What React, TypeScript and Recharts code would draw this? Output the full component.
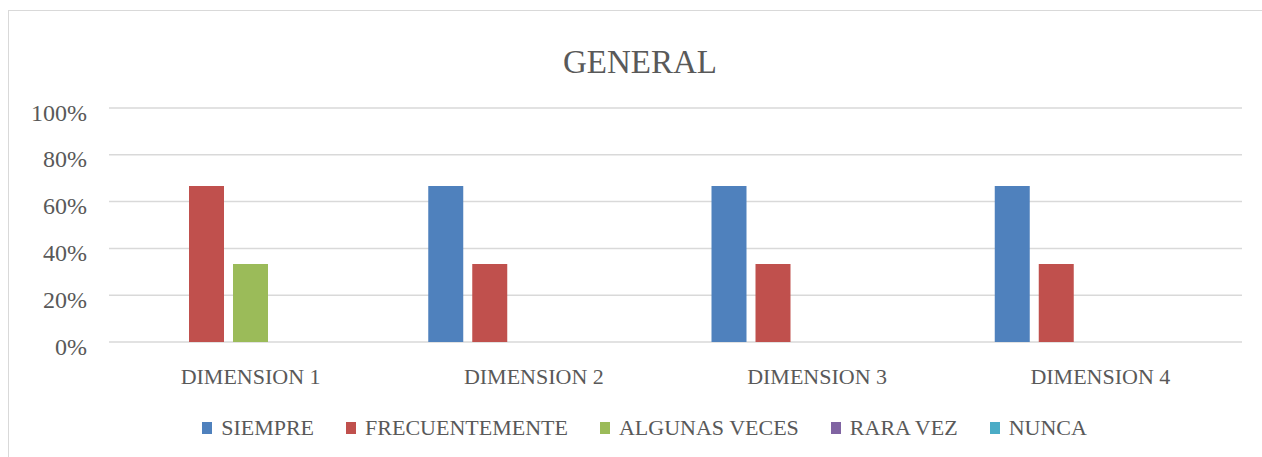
import { Bar, BarChart, CartesianGrid, Legend, XAxis, YAxis } from "recharts";

const categories = ["DIMENSION 1", "DIMENSION 2", "DIMENSION 3", "DIMENSION 4"];
const siempre = [0, 0.6667, 0.6667, 0.6667];
const frecuentemente = [0.6667, 0.3333, 0.3333, 0.3333];
const algunasVeces = [0.3333, 0, 0, 0];
const raraVez = [0, 0, 0, 0];
const nunca = [0, 0, 0, 0];
const yTicks = [0, 0.2, 0.4, 0.6, 0.8, 1];

const series = [
  { key: "siempre", name: "SIEMPRE", color: "#4F81BD" },
  { key: "frecuentemente", name: "FRECUENTEMENTE", color: "#C0504D" },
  { key: "algunasVeces", name: "ALGUNAS VECES", color: "#9BBB59" },
  { key: "raraVez", name: "RARA VEZ", color: "#8064A2" },
  { key: "nunca", name: "NUNCA", color: "#4BACC6" },
];

const data = categories.map((name, i) => ({
  name,
  siempre: siempre[i],
  frecuentemente: frecuentemente[i],
  algunasVeces: algunasVeces[i],
  raraVez: raraVez[i],
  nunca: nunca[i],
}));

const FONT = '"Liberation Serif", "DejaVu Serif", serif';
const TEXT = "#595959";

function LegendRow() {
  return (
    <div
      style={{
        display: "flex",
        justifyContent: "center",
        alignItems: "center",
        height: 24,
        paddingLeft: 38,
        fontFamily: FONT,
        fontSize: 22,
        color: TEXT,
        whiteSpace: "nowrap",
      }}
    >
      {series.map((s, i) => (
        <div
          key={s.key}
          style={{ display: "flex", alignItems: "center", marginLeft: i === 0 ? 0 : 32 }}
        >
          <span style={{ width: 10, height: 12, background: s.color, marginRight: 9 }} />
          <span>{s.name}</span>
        </div>
      ))}
    </div>
  );
}

export default function App() {
  return (
    <div
      style={{
        position: "absolute",
        left: 0,
        top: 0,
        width: 1262,
        height: 457,
        overflow: "hidden",
        background: "#fff",
      }}
    >
      <div
        style={{
          position: "absolute",
          left: 8,
          top: 10,
          width: 1300,
          height: 500,
          border: "1.5px solid #D9D9D9",
        }}
      />
      <div
        style={{
          position: "absolute",
          left: 0,
          top: 40,
          width: 1280,
          textAlign: "center",
          fontFamily: FONT,
          fontSize: 33,
          color: TEXT,
          lineHeight: "44px",
        }}
      >
        GENERAL
      </div>
      <div style={{ position: "absolute", left: 0, top: 0 }}>
        <BarChart
          width={1262}
          height={457}
          data={data}
          margin={{ top: 108, right: 20, bottom: 17, left: 9 }}
          barSize={35}
          barGap={9}
        >
          <CartesianGrid vertical={false} stroke="#D9D9D9" strokeWidth={1.5} />
          <XAxis
            dataKey="name"
            height={74}
            axisLine={false}
            tickLine={false}
            tickSize={0}
            tickMargin={26}
            tick={{ fill: TEXT, fontSize: 22, fontFamily: FONT }}
          />
          <YAxis
            width={100}
            domain={[0, 1]}
            ticks={yTicks}
            axisLine={false}
            tickLine={false}
            tickSize={0}
            tickMargin={22}
            tickFormatter={(v: number) => `${Math.round(v * 100)}%`}
            tick={{ fill: TEXT, fontSize: 24, fontFamily: FONT, dy: 4 }}
          />
          <Legend verticalAlign="bottom" content={() => <LegendRow />} />
          {series.map((s) => (
            <Bar
              key={s.key}
              dataKey={s.key}
              name={s.name}
              fill={s.color}
              isAnimationActive={false}
            />
          ))}
        </BarChart>
      </div>
    </div>
  );
}
